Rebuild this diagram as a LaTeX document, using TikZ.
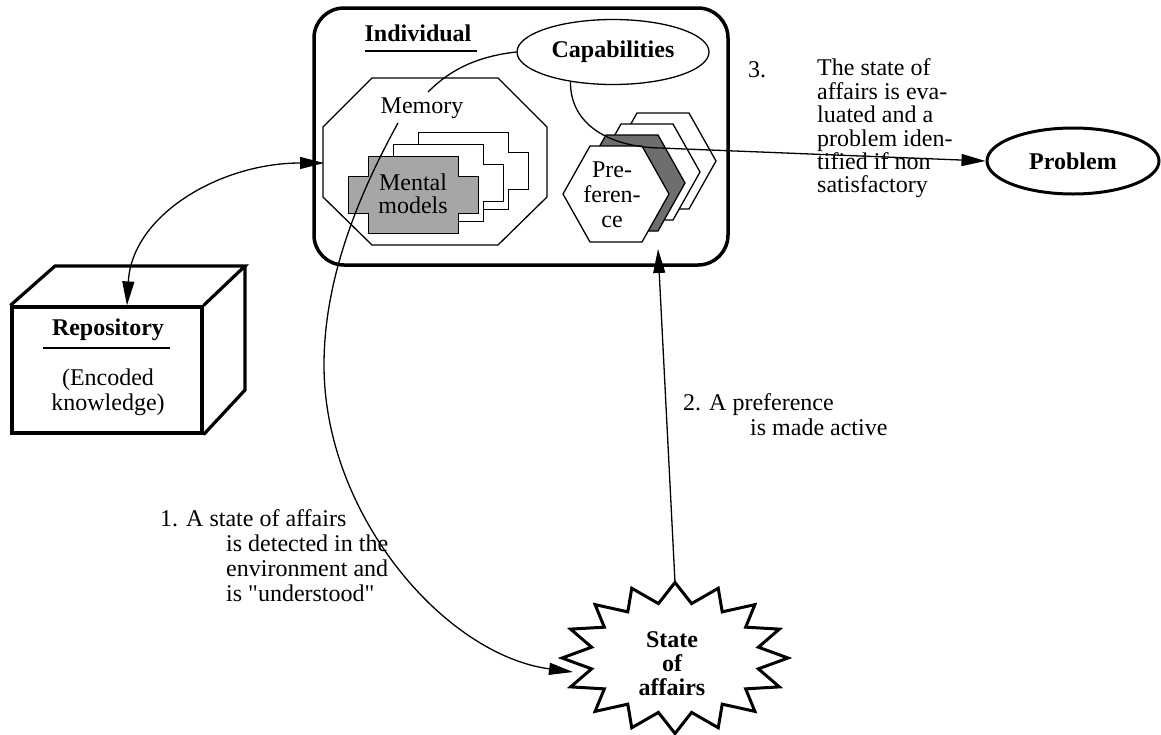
\documentclass[tikz,border=0pt]{standalone}
\usepackage{fontspec}
\setmainfont{Liberation Serif}[Ligatures=TeXOff]
\usetikzlibrary{arrows.meta,shapes.geometric}
\definecolor{mgrey}{HTML}{A6A6A6}
\definecolor{dgrey}{HTML}{6E6E6E}
\begin{document}
\begin{tikzpicture}[x=1pt,y=-1pt,
  thinl/.style={line width=1.3pt},
  thickl/.style={line width=3.2pt},
  arr/.style={-{Triangle[length=24pt,width=12pt]}, line width=1.3pt},
  darr/.style={{Triangle[length=24pt,width=12pt]}-{Triangle[length=24pt,width=12pt]}, line width=1.3pt},
  txt/.style={font=\fontsize{24}{24}\selectfont, inner sep=0pt},
  btxt/.style={font=\fontsize{24}{24}\selectfont\bfseries, inner sep=0pt},
]
\useasboundingbox (0,0) rectangle (1161,734);

% Individual
\node[draw, line width=3.5pt, rounded corners=30pt, minimum width=414pt, minimum height=257pt] (indiv) at (521,136.5) {};
\node[btxt] (indlbl) at (418,33) {Individual};
\draw[line width=1.5pt] (365,51) -- (477,51);

% Capabilities
\node[draw, ellipse, thinl, fill=white, minimum width=192pt, minimum height=65pt, btxt] (cap) at (613,52) {Capabilities};

% Memory octagon
\draw[thinl] (372,78) -- (498,78) -- (547,127) -- (547,197) -- (498,245) -- (372,245) -- (323,197) -- (323,127) -- cycle;
\node[txt] (mem) at (422,108) {Memory};

% Mental models crosses
\foreach \dx/\dy/\col in {50/-24/white, 25/-12/white, 0/0/mgrey} {
  \draw[thinl, fill=\col, shift={(413.5+\dx,195+\dy)}]
    (-45,-38.5) -- (45,-38.5) -- (45,-18.5) -- (65,-18.5) -- (65,18.5) -- (45,18.5)
    -- (45,38.5) -- (-45,38.5) -- (-45,18.5) -- (-65,18.5) -- (-65,-18.5) -- (-45,-18.5) -- cycle;
}
\node[txt, align=center, font=\fontsize{24}{23}\selectfont] (mm) at (413,194) {Mental\\models};

% Preference hexagons
\foreach \dx/\dy/\col in {47/-33/white, 31/-22/white, 16/-11/dgrey, 0/0/white} {
  \draw[thinl, fill=\col, shift={(616+\dx,194+\dy)}]
    (-26,-48) -- (26,-48) -- (53,0) -- (26,48) -- (-26,48) -- (-53,0) -- cycle;
}
\node[txt, align=center, font=\fontsize{24}{25}\selectfont] (pref) at (612,195) {Pre-\\feren-\\ce};

% Repository cube
\node[draw, line width=3.2pt, fill=white, minimum width=190pt, minimum height=126pt] (repo) at (107,370) {};
\draw[thickl, line join=miter] (repo.north west) -- (55,266) -- (245,266) -- (repo.north east);
\draw[thickl, line join=miter] (245,266) -- (245,390) -- (repo.south east);
\node[btxt] (replbl) at (108,330) {Repository};
\draw[line width=1.5pt] (43,348) -- (170,348);
\node[txt, align=center, font=\fontsize{24}{25}\selectfont] (repotxt) at (108,392) {(Encoded\\knowledge)};

% Problem
\node[draw, ellipse, line width=3pt, minimum width=172pt, minimum height=66pt, btxt] (prob) at (1073,161) {Problem};

% State of affairs star
\draw[line width=3pt, fill=white] (788,658)
  \foreach \i in {1,...,31} { -- ({675+(113-28*mod(\i,2))*cos(\i*11.25)},{658-(75.5-20*mod(\i,2))*sin(\i*11.25)}) } -- cycle;
\node[btxt, align=center] (soa) at (672,664) {State\\of\\affairs};
\coordinate (starTop) at (675,582.5);
\coordinate (starIn) at (573,672);

% coordinates
\coordinate (memL) at (324,163);
\coordinate (memS) at (398,123);
\coordinate (memN) at (428,92);
\coordinate (prefTip) at (658,249);

% connectors
\draw[thinl] (cap.west) .. controls (470,57) and (445,75) .. (memN);
\draw[arr] (cap.215) .. controls (570,125) and (610,147) .. (660,148) -- (prob.west);
\draw[darr] ([xshift=20pt]repo.north) .. controls (132,215) and (220,163) .. (memL);
\draw[arr] (memS) .. controls (350,210) and (324,290) .. (324,365) .. controls (324,515) and (445,655) .. (starIn);
\draw[arr] (starTop) -- (prefTip);

% texts
\node[txt, anchor=west, align=left, font=\fontsize{24}{25}\selectfont] (t1) at (160,555.5)
  {1. A state of affairs\\\hspace*{66pt}is detected in the\\\hspace*{66pt}environment and\\\hspace*{66pt}is "understood"};
\node[txt, anchor=west, align=left, font=\fontsize{24}{25}\selectfont] (t2) at (683,414.5)
  {2. A preference\\\hspace*{67pt}is made active};
\node[txt, anchor=west] (t3n) at (748,70) {3.};
\node[txt, anchor=west, align=left, font=\fontsize{24}{23.4}\selectfont] (t3) at (817,128.5)
  {The state of\\affairs is eva-\\luated and a\\problem iden-\\tified if non\\satisfactory};
\end{tikzpicture}
\end{document}
